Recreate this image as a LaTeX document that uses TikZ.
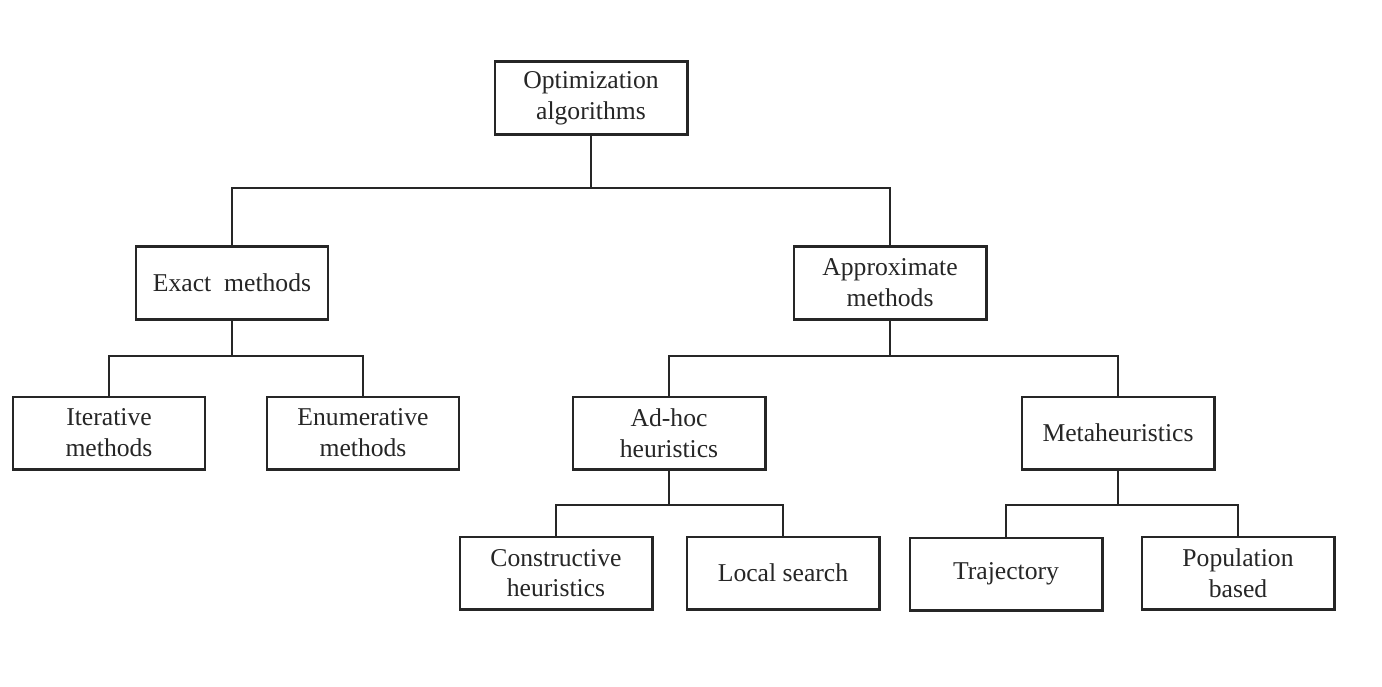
\documentclass[tikz,border=0pt]{standalone}
\usepackage{fontspec}
\setmainfont{Liberation Serif}
\usetikzlibrary{positioning}
\tikzset{
  catbox/.style={draw=black!85, line width=1.15pt, fill=white, text=black!85, minimum width=3.86cm, minimum height=1.46cm, align=center, inner sep=2pt, font=\fontsize{14.6}{17.5}\selectfont},
  treeline/.style={draw=black!85, line width=1.25pt},
}
\begin{document}
\begin{tikzpicture}[x=0.02cm,y=-0.02cm]
\path[use as bounding box] (0,0) rectangle (1382,686);

% root and first level
\node[catbox] (optim) at (591,98) {Optimization\\algorithms};
\node[catbox] (exact) at (232,283) {Exact\ \ methods};
\node[catbox] (approx) at (890,283) {Approximate\\methods};

% second level
\node[catbox] (iter) at (109,433) {Iterative\\methods};
\node[catbox] (enum) at (363,433) {Enumerative\\methods};
\node[catbox] (adhoc) at (669,433) {Ad-hoc\\heuristics};
\node[catbox] (meta) at (1118,433) {Metaheuristics};

% third level
\node[catbox] (constr) at (556,573) {Constructive\\heuristics};
\node[catbox] (local) at (783,573) {Local search};
\node[catbox] (traj) at (1006,574) {Trajectory};
\node[catbox] (popul) at (1238,573) {Population\\based};

% junctions
\coordinate (j0) at (591,188);
\coordinate (j1) at (232,356);
\coordinate (j2) at (890,356);
\coordinate (j3) at (669,505);
\coordinate (j4) at (1118,505);

% connectors
\draw[treeline] (optim.south) -- (j0) -| (exact.north);
\draw[treeline] (j0) -| (approx.north);
\draw[treeline] (exact.south) -- (j1) -| (iter.north);
\draw[treeline] (j1) -| (enum.north);
\draw[treeline] (approx.south) -- (j2) -| (adhoc.north);
\draw[treeline] (j2) -| (meta.north);
\draw[treeline] (adhoc.south) -- (j3) -| (constr.north);
\draw[treeline] (j3) -| (local.north);
\draw[treeline] (meta.south) -- (j4) -| (traj.north);
\draw[treeline] (j4) -| (popul.north);
\end{tikzpicture}
\end{document}
